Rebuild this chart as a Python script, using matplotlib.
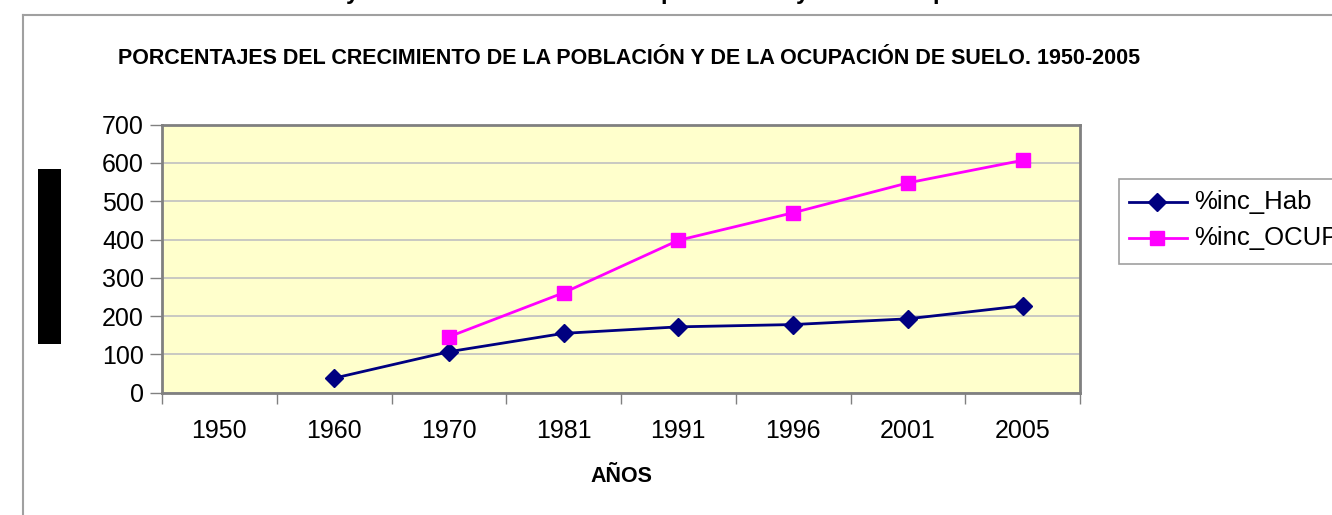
import numpy as np
from matplotlib import pyplot as plt, patches, lines

plt.rcParams['font.family'] = ['Liberation Sans', 'DejaVu Sans']

# Datos
years = ['1950', '1960', '1970', '1981', '1991', '1996', '2001', '2005']
inc_hab = [np.nan, 38, 107, 155, 172, 178, 193, 227]
inc_ocup = [np.nan, np.nan, 146, 261, 398, 470, 548, 607]
y_ticks = [0, 100, 200, 300, 400, 500, 600, 700]

W, H = 1332, 515
fig = plt.figure(figsize=(W / 100, H / 100), dpi=100)
fig.patch.set_facecolor('white')

# Marco exterior del grafico (cortado por la captura)
fig.add_artist(lines.Line2D([23 / W, 23 / W], [0, 1 - 15 / H], transform=fig.transFigure,
                            color='#a0a0a0', lw=1.5))
fig.add_artist(lines.Line2D([23 / W, 1], [1 - 15 / H, 1 - 15 / H], transform=fig.transFigure,
                            color='#a0a0a0', lw=1.5))

# Restos del titulo superior cortado
for xp, ch in zip([352, 668, 802, 940], ['y', 'p', 'y', 'p']):
    fig.text(xp / W, 1 + 1 / H, ch, ha='center', va='baseline', fontsize=17,
             fontweight='bold', color='black')

# Etiqueta del eje Y tapada (bloque negro)
fig.add_artist(patches.Rectangle((38 / W, 1 - 344 / H), 23 / W, 175 / H,
                                 transform=fig.transFigure, facecolor='black', edgecolor='none'))

ax = fig.add_axes([162 / W, 1 - 392.7 / H, (1080 - 162) / W, (392.7 - 124.7) / H])
ax.set_facecolor('#FFFFCC')

x = np.arange(len(years))
ax.plot(x, inc_hab, color='#000080', lw=2, marker='D', markersize=9, label='%inc_Hab', zorder=3)
ax.plot(x, inc_ocup, color='#FF00FF', lw=2, marker='s', markersize=10, label='%inc_OCUP', zorder=3)

ax.set_xlim(-0.5, len(years) - 0.5)
ax.set_ylim(0, 700)
ax.set_yticks(y_ticks)
ax.set_yticklabels([str(v) for v in y_ticks], fontsize=18)
ax.yaxis.grid(True, color='#c0c0c0', lw=1.2)
ax.set_axisbelow(True)

ax.set_xticks(x)
ax.set_xticklabels(years, fontsize=18)
ax.set_xticks(np.arange(-0.5, len(years)), minor=True)
ax.tick_params(axis='x', which='major', length=0, pad=19)
ax.tick_params(axis='x', which='minor', length=8, width=1, color='#808080')
ax.tick_params(axis='y', length=9, width=1, color='#808080', pad=4)

for s in ax.spines.values():
    s.set_color('#808080')
    s.set_linewidth(2)

fig.text(621 / W, 1 - 477 / H, 'AÑOS', ha='center', va='center', fontsize=15.5,
         fontweight='bold')
fig.text(118 / W, 1 - 58 / H,
         'PORCENTAJES DEL CRECIMIENTO DE LA POBLACIÓN Y DE LA OCUPACIÓN DE SUELO. 1950-2005',
         ha='left', va='center', fontsize=15.5, fontweight='bold')

# Leyenda (cortada por el borde derecho)
fig.add_artist(patches.Rectangle((1119 / W, 1 - 264 / H), 300 / W, 85 / H,
                                 transform=fig.transFigure, facecolor='white',
                                 edgecolor='#a0a0a0', lw=1.2))
for yy, line_obj in zip([202, 238], ax.get_lines()):
    fig.add_artist(lines.Line2D([1129 / W, 1187 / W], [1 - yy / H] * 2, transform=fig.transFigure,
                                color=line_obj.get_color(), lw=2))
    fig.add_artist(lines.Line2D([1157 / W], [1 - yy / H], transform=fig.transFigure,
                                color=line_obj.get_color(), marker=line_obj.get_marker(),
                                markersize=line_obj.get_markersize(), lw=0))
    fig.text(1194 / W, 1 - yy / H, line_obj.get_label(), ha='left', va='center', fontsize=18.5)

fig.savefig('out.png', dpi=100)
